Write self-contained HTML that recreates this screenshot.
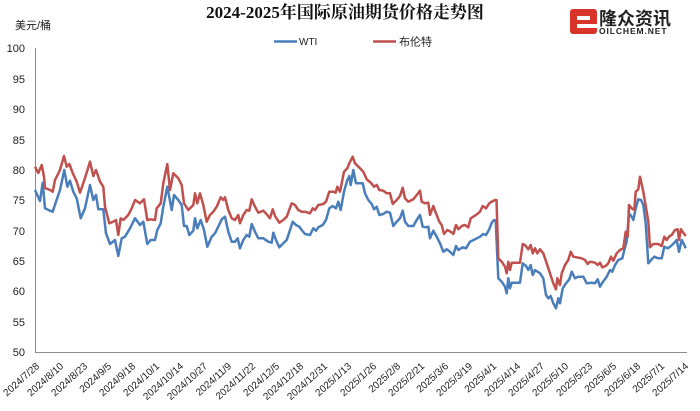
<!DOCTYPE html>
<html><head><meta charset="utf-8"><style>
html,body{margin:0;padding:0;background:#fff;}
svg{display:block;}
</style></head><body>
<svg width="700" height="411" viewBox="0 0 700 411" xmlns="http://www.w3.org/2000/svg">
<rect width="700" height="411" fill="#fff"/>
<text x="345" y="18" text-anchor="middle" font-family="'Liberation Serif','Noto Serif CJK SC',serif" font-weight="bold" font-size="17" fill="#111">2024-2025年国际原油期货价格走势图</text>
<!-- logo -->
<g>
<rect x="570" y="9" width="27" height="25" rx="3" fill="#d8342a"/>
<rect x="577" y="16" width="13" height="4" fill="#fff"/>
<rect x="577" y="24" width="20" height="4" fill="#fff"/>
<text x="599" y="25" font-family="'Liberation Sans','Noto Sans CJK SC',sans-serif" font-weight="bold" font-size="18" fill="#222">隆众资讯</text>
<text x="599" y="34" font-family="'Liberation Sans',sans-serif" font-weight="bold" font-size="8.5" letter-spacing="0.9" fill="#222">OILCHEM.NET</text>
</g>
<text x="15" y="29" font-family="'Liberation Sans','Noto Sans CJK SC',sans-serif" font-size="11" fill="#222">美元/桶</text>
<!-- legend -->
<line x1="274" y1="41.5" x2="297" y2="41.5" stroke="#4a7ebb" stroke-width="2.5"/>
<text x="299" y="45" font-family="'Liberation Sans',sans-serif" font-size="10" fill="#222">WTI</text>
<line x1="373" y1="41.5" x2="396" y2="41.5" stroke="#c0504d" stroke-width="2.5"/>
<text x="399" y="45.5" font-family="'Liberation Sans','Noto Sans CJK SC',sans-serif" font-size="11" fill="#222">布伦特</text>
<!-- y labels -->
<g font-family="'Liberation Sans',sans-serif" font-size="11" fill="#222" text-anchor="end">
<text x="25" y="52">100</text>
<text x="25" y="83">95</text>
<text x="25" y="113">90</text>
<text x="25" y="144">85</text>
<text x="25" y="174">80</text>
<text x="25" y="204">75</text>
<text x="25" y="235">70</text>
<text x="25" y="265">65</text>
<text x="25" y="295">60</text>
<text x="25" y="326">55</text>
<text x="25" y="356">50</text>
</g>
<!-- axes -->
<line x1="35.5" y1="48" x2="35.5" y2="352.5" stroke="#8c8c8c" stroke-width="1"/>
<line x1="35" y1="352.5" x2="687" y2="352.5" stroke="#8c8c8c" stroke-width="1"/>
<!-- x labels -->
<g font-family="'Liberation Sans',sans-serif" font-size="10" fill="#222" text-anchor="end">
<text transform="translate(40,367) rotate(-42)">2024/7/28</text>
<text transform="translate(64,367) rotate(-42)">2024/8/10</text>
<text transform="translate(88,367) rotate(-42)">2024/8/23</text>
<text transform="translate(112,367) rotate(-42)">2024/9/5</text>
<text transform="translate(136,367) rotate(-42)">2024/9/18</text>
<text transform="translate(160,367) rotate(-42)">2024/10/1</text>
<text transform="translate(184,367) rotate(-42)">2024/10/14</text>
<text transform="translate(208,367) rotate(-42)">2024/10/27</text>
<text transform="translate(232,367) rotate(-42)">2024/11/9</text>
<text transform="translate(256,367) rotate(-42)">2024/11/22</text>
<text transform="translate(280,367) rotate(-42)">2024/12/5</text>
<text transform="translate(304,367) rotate(-42)">2024/12/18</text>
<text transform="translate(328,367) rotate(-42)">2024/12/31</text>
<text transform="translate(352,367) rotate(-42)">2025/1/13</text>
<text transform="translate(377,367) rotate(-42)">2025/1/26</text>
<text transform="translate(401,367) rotate(-42)">2025/2/8</text>
<text transform="translate(425,367) rotate(-42)">2025/2/21</text>
<text transform="translate(449,367) rotate(-42)">2025/3/6</text>
<text transform="translate(473,367) rotate(-42)">2025/3/19</text>
<text transform="translate(497,367) rotate(-42)">2025/4/1</text>
<text transform="translate(521,367) rotate(-42)">2025/4/14</text>
<text transform="translate(545,367) rotate(-42)">2025/4/27</text>
<text transform="translate(569,367) rotate(-42)">2025/5/10</text>
<text transform="translate(593,367) rotate(-42)">2025/5/23</text>
<text transform="translate(617,367) rotate(-42)">2025/6/5</text>
<text transform="translate(641,367) rotate(-42)">2025/6/18</text>
<text transform="translate(665,367) rotate(-42)">2025/7/1</text>
<text transform="translate(689,367) rotate(-42)">2025/7/14</text>
</g>
<!-- WTI -->
<polyline fill="none" stroke="#4a7ebb" stroke-width="2.5" stroke-linejoin="round" points="35,190 40,201 42.7,182.7 45,208.3 50,210.7 52.7,211.7 56,201.7 60,190 64.3,170 67.3,186.7 70,180.7 73.3,191.7 76.7,198.3 80.7,218.3 85,208.3 90,185 93.3,200 96,195 98.3,209.3 103.3,209.3 106,233.3 110,244 115,240 118.3,256 121.7,238.3 125,236.7 130,228.3 135,218.3 140,225 143.3,221.7 147.3,244 150.7,240 155,240 157.3,230 160.7,223.3 163.3,206.7 167.3,186.7 171.7,210 174,195 178.3,200 181.7,205 184,226 186.7,226 189.3,235 193.3,230.7 195,218.3 197.3,228.3 200.7,220 204,230 207.3,246.7 211.7,236.7 215,233.3 218.3,226.7 221.7,219.3 225,216.7 228.3,231.7 231.7,241.7 235,241.7 237.7,238.3 240,248.3 243.3,240 246.7,235 249.3,236.7 251.7,224 255,231.7 258.3,238.3 263.3,238.3 268.3,241.7 271.7,242.7 273.3,232.7 276,240 279.3,247.3 283.3,243.3 286.7,240 290,230 292.7,221.7 296,225 299.3,226.7 301.7,230 305,234 310,235 313.3,228.3 316,230.7 318.3,227.3 322.7,225 326,220 329.3,208.3 332.7,206 336,208.3 338.3,201.7 340.7,210 344,191.7 347.3,180 349.3,176 350.7,185 353.3,170 356,183.3 360,183.3 362.7,183.3 365,193.3 368.3,200 371.7,204 374,209.3 376.7,206.7 379.3,215 383.3,214 386.7,211.7 390,212.7 393.3,226 396.7,221.7 400,218.3 402.7,210.7 405,221.7 408.3,226 413.3,226 416.7,220 420,215 422.7,226.7 426,227.3 428.3,226.7 430,238.3 433.3,230.7 436.7,236.7 440,243.3 443.3,251.7 446.7,249.3 450,251.7 453.3,255 456,246 458.3,250 462.7,247.3 466,248.3 470,241.7 475,239.3 480,236.7 483.3,234 486,235 489.3,229.3 491.7,222.7 494,220 495.7,220.7 498.3,278.3 501.7,281.7 505,286.7 506.7,293.3 508.3,278.3 510,288.3 511.7,282.7 520,282.7 522.7,263.3 526,266 528.3,270 530.7,265 532.7,275 535,270 540,273.3 543.3,278.3 546,295 548.3,298.3 550.7,296 553.3,303.3 556,308.3 558.3,298.3 560,303.3 562.7,288.3 566,283.3 569.3,279.3 571.7,271.7 575,278.3 578.3,276.7 583.3,276.7 586.7,283.3 591.7,282.7 595,283.3 597.7,279.3 600,286.7 602.3,282.7 606.7,276.7 610,270 612.3,271.7 615,265 618.3,260 622.3,258.3 624.3,250 626.7,241.7 629,213.3 631.7,216.7 633.3,220 635.7,208.3 638.3,199.3 641,200 643.3,205 645.7,223.3 648.3,263.3 651.7,259.3 654.3,256.7 658.3,258.3 661.7,258.3 664.3,246.7 667.7,248.3 671,246 674.3,242.7 676.7,240 679,251.7 681.7,240 684.3,245 685.7,248.3"/>
<!-- Brent -->
<polyline fill="none" stroke="#c0504d" stroke-width="2.5" stroke-linejoin="round" points="35,166.7 38.3,173 41.7,165 44,176.7 45,188 50,190 52.7,191.7 55,180 60,170 64,156 66.7,166.7 69.3,164 72.7,173 76.7,181.7 80,192.7 85,178 90,161.7 93.3,176 96,170 100,181.7 103.3,186.7 105,206.7 109.3,223.3 113.3,221.7 116,220 118.3,235 120.7,218.3 123.3,220 128.3,215 131.7,208.3 135,200 140,203.3 144,199.3 147.3,220 150.7,219.3 155,220 156.7,208.3 160.7,203.3 163.3,183.3 167.3,164 170,190 173.3,173.3 178.3,178.3 181.7,185 184,203.3 188.3,210 193.3,205 195,193.3 197.3,203.3 200,193.3 203.3,205 206.7,221.7 210,215 213.3,211.7 216.7,206.7 220.7,197.3 223.3,200 225,197.3 228.3,210 231.7,218.3 235,220 238.3,215 240,223.3 243.3,215 246.7,210 249.3,210.7 251.7,199.3 255,206.7 258.3,212.7 263.3,210.7 267.3,215 270,218.3 272.7,209.3 275,216 279.3,222.7 283.3,220 286.7,216.7 291.7,203.3 295,205 298.3,210 301.7,211.7 305,211.7 310,213.3 312.7,208.3 315,210 318.3,205 323.3,204 326,201.7 329.3,191.7 333.3,191.7 335.7,192.7 337.3,186.7 340,191.7 344,171.7 347.3,168.3 349.3,163.3 352.7,156.7 355,163.3 360,168.3 363.3,171.7 366.7,179.3 370.7,182.7 374,186.7 376.7,185 379.3,190 383.3,190.7 386.7,193.3 390,193.3 392.7,204 396.7,200 400,196 402.7,187.7 405,198.3 408.3,201.7 413.3,199.3 416.7,195 420,190.7 421.7,201.7 425,203.3 428.3,202.7 430,215 433.3,206 436,213.3 439.3,221.7 441.7,225 444,234 447.3,230 450.7,231.7 453.3,234 456,225 458.3,229.3 461.7,226 465,225 468.3,227.3 470.7,218.3 476,215 480,211.7 482.7,206 486,208.3 489.3,203.3 491.7,201.7 495,200 496.5,200 498.3,258.3 501.7,261.7 505,266.7 506.7,273.3 508.3,261.7 510,270 511.7,262.7 520,262.7 522.7,244 525,245 528.3,249.3 530.7,245 532.7,253.3 535,248.3 537.3,253.3 540,249.3 543.3,253.3 546.7,263.3 550,273.3 553.3,283.3 556,289.3 557.3,278.3 560,285 561.7,273.3 565,265 568.3,260 570.7,251.7 573.3,256.7 576.7,257.3 581.7,258.3 585,260 587.7,264 590,261.7 595,262.7 597.7,265 600,262.7 602.3,267.3 605.7,266 608.3,263.3 611,256.7 613.3,260.7 616.7,253.3 620,250 623.3,248.3 625.7,231.7 627.7,236.7 629,205 631.7,208.3 634.3,210 635.7,191.7 638.3,189.3 640,176.7 643.3,191.7 646.7,211.7 648.3,221.7 650,247.3 653.3,244 658.3,244 661.7,246 664.3,236.7 666.7,240 669,236.7 671.7,235 675,230 677.7,229.3 679,240 681,229.3 683.3,232.7 685.7,236"/>
</svg>
</body></html>
